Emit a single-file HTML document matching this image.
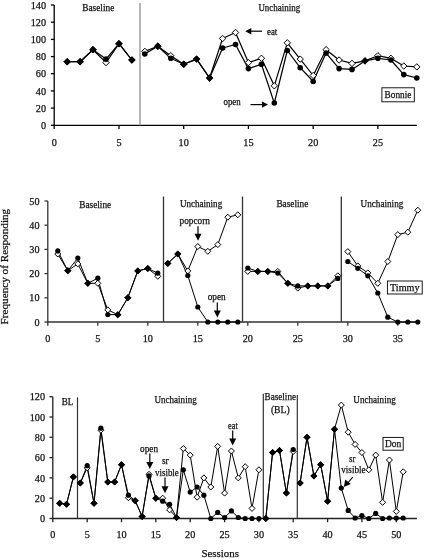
<!DOCTYPE html>
<html><head><meta charset="utf-8"><style>
html,body{margin:0;padding:0;background:#fff;}
svg{display:block;}
text{font-family:"Liberation Serif", serif;fill:#111;stroke:#111;stroke-width:0.25px;}
svg{will-change:transform;}
</style></head><body>
<svg width="430" height="558" viewBox="0 0 430 558">
<rect width="430" height="558" fill="#fff"/>
<line x1="54.2" y1="5.0" x2="54.2" y2="125.9" stroke="#000" stroke-width="1.3"/>
<line x1="53.6" y1="125.3" x2="416.8" y2="125.3" stroke="#000" stroke-width="1.3"/>
<line x1="50.9" y1="125.3" x2="54.2" y2="125.3" stroke="#000" stroke-width="1.3"/>
<text x="46.0" y="128.9" font-size="10.5" text-anchor="end" textLength="5.1" lengthAdjust="spacingAndGlyphs">0</text>
<line x1="50.9" y1="108.1" x2="54.2" y2="108.1" stroke="#000" stroke-width="1.3"/>
<text x="46.0" y="111.7" font-size="10.5" text-anchor="end" textLength="10.2" lengthAdjust="spacingAndGlyphs">20</text>
<line x1="50.9" y1="90.9" x2="54.2" y2="90.9" stroke="#000" stroke-width="1.3"/>
<text x="46.0" y="94.5" font-size="10.5" text-anchor="end" textLength="10.2" lengthAdjust="spacingAndGlyphs">40</text>
<line x1="50.9" y1="73.7" x2="54.2" y2="73.7" stroke="#000" stroke-width="1.3"/>
<text x="46.0" y="77.3" font-size="10.5" text-anchor="end" textLength="10.2" lengthAdjust="spacingAndGlyphs">60</text>
<line x1="50.9" y1="56.6" x2="54.2" y2="56.6" stroke="#000" stroke-width="1.3"/>
<text x="46.0" y="60.2" font-size="10.5" text-anchor="end" textLength="10.2" lengthAdjust="spacingAndGlyphs">80</text>
<line x1="50.9" y1="39.4" x2="54.2" y2="39.4" stroke="#000" stroke-width="1.3"/>
<text x="46.0" y="43.0" font-size="10.5" text-anchor="end" textLength="15.3" lengthAdjust="spacingAndGlyphs">100</text>
<line x1="50.9" y1="22.2" x2="54.2" y2="22.2" stroke="#000" stroke-width="1.3"/>
<text x="46.0" y="25.8" font-size="10.5" text-anchor="end" textLength="15.3" lengthAdjust="spacingAndGlyphs">120</text>
<line x1="50.9" y1="5.0" x2="54.2" y2="5.0" stroke="#000" stroke-width="1.3"/>
<text x="46.0" y="8.6" font-size="10.5" text-anchor="end" textLength="15.3" lengthAdjust="spacingAndGlyphs">140</text>
<line x1="54.2" y1="125.3" x2="54.2" y2="129.0" stroke="#000" stroke-width="1.3"/>
<text x="54.2" y="145.6" font-size="10.5" text-anchor="middle" textLength="5.1" lengthAdjust="spacingAndGlyphs">0</text>
<line x1="119.0" y1="125.3" x2="119.0" y2="129.0" stroke="#000" stroke-width="1.3"/>
<text x="119.0" y="145.6" font-size="10.5" text-anchor="middle" textLength="5.1" lengthAdjust="spacingAndGlyphs">5</text>
<line x1="183.7" y1="125.3" x2="183.7" y2="129.0" stroke="#000" stroke-width="1.3"/>
<text x="183.7" y="145.6" font-size="10.5" text-anchor="middle" textLength="10.2" lengthAdjust="spacingAndGlyphs">10</text>
<line x1="248.4" y1="125.3" x2="248.4" y2="129.0" stroke="#000" stroke-width="1.3"/>
<text x="248.4" y="145.6" font-size="10.5" text-anchor="middle" textLength="10.2" lengthAdjust="spacingAndGlyphs">15</text>
<line x1="313.2" y1="125.3" x2="313.2" y2="129.0" stroke="#000" stroke-width="1.3"/>
<text x="313.2" y="145.6" font-size="10.5" text-anchor="middle" textLength="10.2" lengthAdjust="spacingAndGlyphs">20</text>
<line x1="377.9" y1="125.3" x2="377.9" y2="129.0" stroke="#000" stroke-width="1.3"/>
<text x="377.9" y="145.6" font-size="10.5" text-anchor="middle" textLength="10.2" lengthAdjust="spacingAndGlyphs">25</text>
<line x1="140.0" y1="3.0" x2="140.0" y2="125.3" stroke="#999" stroke-width="1.4"/>
<polyline points="67.2,61.7 80.1,61.7 93.0,49.7 106.0,62.6 119.0,43.7 131.9,60.0" fill="none" stroke="#000" stroke-width="1.2" stroke-linejoin="round"/>
<polyline points="67.2,61.7 80.1,61.7 93.0,49.7 106.0,59.1 119.0,43.7 131.9,60.0" fill="none" stroke="#000" stroke-width="1.2" stroke-linejoin="round"/>
<polyline points="144.8,51.4 157.8,46.2 170.8,55.7 183.7,64.3 196.6,59.1 209.6,78.0 222.6,38.5 235.5,32.5 248.4,62.6 261.4,58.3 274.3,85.8 287.3,42.8 300.2,59.1 313.2,75.5 326.1,49.7 339.1,60.0 352.0,63.4 365.0,60.9 377.9,55.7 390.9,58.3 403.8,66.0 416.8,66.9" fill="none" stroke="#000" stroke-width="1.2" stroke-linejoin="round"/>
<polyline points="144.8,54.0 157.8,46.2 170.8,58.3 183.7,64.3 196.6,59.1 209.6,78.0 222.6,48.0 235.5,44.5 248.4,68.6 261.4,64.3 274.3,103.0 287.3,50.5 300.2,67.7 313.2,81.5 326.1,53.1 339.1,68.6 352.0,69.4 365.0,60.9 377.9,58.3 390.9,60.0 403.8,74.6 416.8,78.0" fill="none" stroke="#000" stroke-width="1.2" stroke-linejoin="round"/>
<path d="M67.2 58.5L70.4 61.7L67.2 64.9L64.0 61.7Z" fill="#fff" stroke="#000" stroke-width="1"/>
<path d="M80.1 58.5L83.3 61.7L80.1 64.9L76.9 61.7Z" fill="#fff" stroke="#000" stroke-width="1"/>
<path d="M93.0 46.5L96.2 49.7L93.0 52.9L89.8 49.7Z" fill="#fff" stroke="#000" stroke-width="1"/>
<path d="M106.0 59.4L109.2 62.6L106.0 65.8L102.8 62.6Z" fill="#fff" stroke="#000" stroke-width="1"/>
<path d="M119.0 40.5L122.2 43.7L119.0 46.9L115.8 43.7Z" fill="#fff" stroke="#000" stroke-width="1"/>
<path d="M131.9 56.8L135.1 60.0L131.9 63.2L128.7 60.0Z" fill="#fff" stroke="#000" stroke-width="1"/>
<path d="M144.8 48.2L148.0 51.4L144.8 54.6L141.7 51.4Z" fill="#fff" stroke="#000" stroke-width="1"/>
<path d="M157.8 43.0L161.0 46.2L157.8 49.4L154.6 46.2Z" fill="#fff" stroke="#000" stroke-width="1"/>
<path d="M170.8 52.5L173.9 55.7L170.8 58.9L167.6 55.7Z" fill="#fff" stroke="#000" stroke-width="1"/>
<path d="M183.7 61.1L186.9 64.3L183.7 67.5L180.5 64.3Z" fill="#fff" stroke="#000" stroke-width="1"/>
<path d="M196.6 55.9L199.8 59.1L196.6 62.3L193.4 59.1Z" fill="#fff" stroke="#000" stroke-width="1"/>
<path d="M209.6 74.8L212.8 78.0L209.6 81.2L206.4 78.0Z" fill="#fff" stroke="#000" stroke-width="1"/>
<path d="M222.6 35.3L225.8 38.5L222.6 41.7L219.4 38.5Z" fill="#fff" stroke="#000" stroke-width="1"/>
<path d="M235.5 29.3L238.7 32.5L235.5 35.7L232.3 32.5Z" fill="#fff" stroke="#000" stroke-width="1"/>
<path d="M248.4 59.4L251.6 62.6L248.4 65.8L245.2 62.6Z" fill="#fff" stroke="#000" stroke-width="1"/>
<path d="M261.4 55.1L264.6 58.3L261.4 61.5L258.2 58.3Z" fill="#fff" stroke="#000" stroke-width="1"/>
<path d="M274.3 82.6L277.5 85.8L274.3 89.0L271.1 85.8Z" fill="#fff" stroke="#000" stroke-width="1"/>
<path d="M287.3 39.6L290.5 42.8L287.3 46.0L284.1 42.8Z" fill="#fff" stroke="#000" stroke-width="1"/>
<path d="M300.2 55.9L303.4 59.1L300.2 62.3L297.1 59.1Z" fill="#fff" stroke="#000" stroke-width="1"/>
<path d="M313.2 72.3L316.4 75.5L313.2 78.7L310.0 75.5Z" fill="#fff" stroke="#000" stroke-width="1"/>
<path d="M326.1 46.5L329.3 49.7L326.1 52.9L322.9 49.7Z" fill="#fff" stroke="#000" stroke-width="1"/>
<path d="M339.1 56.8L342.3 60.0L339.1 63.2L335.9 60.0Z" fill="#fff" stroke="#000" stroke-width="1"/>
<path d="M352.0 60.2L355.2 63.4L352.0 66.6L348.8 63.4Z" fill="#fff" stroke="#000" stroke-width="1"/>
<path d="M365.0 57.7L368.2 60.9L365.0 64.1L361.8 60.9Z" fill="#fff" stroke="#000" stroke-width="1"/>
<path d="M377.9 52.5L381.1 55.7L377.9 58.9L374.8 55.7Z" fill="#fff" stroke="#000" stroke-width="1"/>
<path d="M390.9 55.1L394.1 58.3L390.9 61.5L387.7 58.3Z" fill="#fff" stroke="#000" stroke-width="1"/>
<path d="M403.8 62.8L407.0 66.0L403.8 69.2L400.6 66.0Z" fill="#fff" stroke="#000" stroke-width="1"/>
<path d="M416.8 63.7L420.0 66.9L416.8 70.1L413.6 66.9Z" fill="#fff" stroke="#000" stroke-width="1"/>
<path d="M67.2 58.0L70.9 61.7L67.2 65.4L63.5 61.7Z" fill="#000"/>
<path d="M80.1 58.0L83.8 61.7L80.1 65.4L76.4 61.7Z" fill="#000"/>
<path d="M93.0 46.0L96.8 49.7L93.0 53.4L89.3 49.7Z" fill="#000"/>
<circle cx="106.0" cy="59.1" r="2.8" fill="#000"/>
<path d="M119.0 40.0L122.7 43.7L119.0 47.4L115.2 43.7Z" fill="#000"/>
<path d="M131.9 56.3L135.6 60.0L131.9 63.7L128.2 60.0Z" fill="#000"/>
<circle cx="144.8" cy="54.0" r="2.8" fill="#000"/>
<path d="M157.8 42.5L161.5 46.2L157.8 49.9L154.1 46.2Z" fill="#000"/>
<circle cx="170.8" cy="58.3" r="2.8" fill="#000"/>
<path d="M183.7 60.6L187.4 64.3L183.7 68.0L180.0 64.3Z" fill="#000"/>
<path d="M196.6 55.4L200.3 59.1L196.6 62.8L192.9 59.1Z" fill="#000"/>
<path d="M209.6 74.3L213.3 78.0L209.6 81.7L205.9 78.0Z" fill="#000"/>
<circle cx="222.6" cy="48.0" r="2.8" fill="#000"/>
<circle cx="235.5" cy="44.5" r="2.8" fill="#000"/>
<circle cx="248.4" cy="68.6" r="2.8" fill="#000"/>
<circle cx="261.4" cy="64.3" r="2.8" fill="#000"/>
<circle cx="274.3" cy="103.0" r="2.8" fill="#000"/>
<circle cx="287.3" cy="50.5" r="2.8" fill="#000"/>
<circle cx="300.2" cy="67.7" r="2.8" fill="#000"/>
<circle cx="313.2" cy="81.5" r="2.8" fill="#000"/>
<circle cx="326.1" cy="53.1" r="2.8" fill="#000"/>
<circle cx="339.1" cy="68.6" r="2.8" fill="#000"/>
<circle cx="352.0" cy="69.4" r="2.8" fill="#000"/>
<path d="M365.0 57.2L368.7 60.9L365.0 64.6L361.3 60.9Z" fill="#000"/>
<circle cx="377.9" cy="58.3" r="2.8" fill="#000"/>
<circle cx="390.9" cy="60.0" r="2.8" fill="#000"/>
<circle cx="403.8" cy="74.6" r="2.8" fill="#000"/>
<circle cx="416.8" cy="78.0" r="2.8" fill="#000"/>
<line x1="47.8" y1="201.0" x2="47.8" y2="322.6" stroke="#333" stroke-width="1.3"/>
<line x1="47.2" y1="322.0" x2="417.8" y2="322.0" stroke="#333" stroke-width="1.3"/>
<line x1="44.5" y1="322.0" x2="47.8" y2="322.0" stroke="#333" stroke-width="1.3"/>
<text x="39.5" y="325.6" font-size="10.5" text-anchor="end" textLength="5.1" lengthAdjust="spacingAndGlyphs">0</text>
<line x1="44.5" y1="297.8" x2="47.8" y2="297.8" stroke="#333" stroke-width="1.3"/>
<text x="39.5" y="301.4" font-size="10.5" text-anchor="end" textLength="10.2" lengthAdjust="spacingAndGlyphs">10</text>
<line x1="44.5" y1="273.6" x2="47.8" y2="273.6" stroke="#333" stroke-width="1.3"/>
<text x="39.5" y="277.2" font-size="10.5" text-anchor="end" textLength="10.2" lengthAdjust="spacingAndGlyphs">20</text>
<line x1="44.5" y1="249.4" x2="47.8" y2="249.4" stroke="#333" stroke-width="1.3"/>
<text x="39.5" y="253.0" font-size="10.5" text-anchor="end" textLength="10.2" lengthAdjust="spacingAndGlyphs">30</text>
<line x1="44.5" y1="225.2" x2="47.8" y2="225.2" stroke="#333" stroke-width="1.3"/>
<text x="39.5" y="228.8" font-size="10.5" text-anchor="end" textLength="10.2" lengthAdjust="spacingAndGlyphs">40</text>
<line x1="44.5" y1="201.0" x2="47.8" y2="201.0" stroke="#333" stroke-width="1.3"/>
<text x="39.5" y="204.6" font-size="10.5" text-anchor="end" textLength="10.2" lengthAdjust="spacingAndGlyphs">50</text>
<line x1="47.8" y1="322.0" x2="47.8" y2="325.7" stroke="#333" stroke-width="1.3"/>
<text x="47.8" y="341.8" font-size="10.5" text-anchor="middle" textLength="5.1" lengthAdjust="spacingAndGlyphs">0</text>
<line x1="97.8" y1="322.0" x2="97.8" y2="325.7" stroke="#333" stroke-width="1.3"/>
<text x="97.8" y="341.8" font-size="10.5" text-anchor="middle" textLength="5.1" lengthAdjust="spacingAndGlyphs">5</text>
<line x1="147.8" y1="322.0" x2="147.8" y2="325.7" stroke="#333" stroke-width="1.3"/>
<text x="147.8" y="341.8" font-size="10.5" text-anchor="middle" textLength="10.2" lengthAdjust="spacingAndGlyphs">10</text>
<line x1="197.8" y1="322.0" x2="197.8" y2="325.7" stroke="#333" stroke-width="1.3"/>
<text x="197.8" y="341.8" font-size="10.5" text-anchor="middle" textLength="10.2" lengthAdjust="spacingAndGlyphs">15</text>
<line x1="247.8" y1="322.0" x2="247.8" y2="325.7" stroke="#333" stroke-width="1.3"/>
<text x="247.8" y="341.8" font-size="10.5" text-anchor="middle" textLength="10.2" lengthAdjust="spacingAndGlyphs">20</text>
<line x1="297.8" y1="322.0" x2="297.8" y2="325.7" stroke="#333" stroke-width="1.3"/>
<text x="297.8" y="341.8" font-size="10.5" text-anchor="middle" textLength="10.2" lengthAdjust="spacingAndGlyphs">25</text>
<line x1="347.8" y1="322.0" x2="347.8" y2="325.7" stroke="#333" stroke-width="1.3"/>
<text x="347.8" y="341.8" font-size="10.5" text-anchor="middle" textLength="10.2" lengthAdjust="spacingAndGlyphs">30</text>
<line x1="397.8" y1="322.0" x2="397.8" y2="325.7" stroke="#333" stroke-width="1.3"/>
<text x="397.8" y="341.8" font-size="10.5" text-anchor="middle" textLength="10.2" lengthAdjust="spacingAndGlyphs">35</text>
<line x1="163.5" y1="196.5" x2="163.5" y2="322.0" stroke="#333" stroke-width="1.3"/>
<line x1="242.5" y1="196.5" x2="242.5" y2="322.0" stroke="#333" stroke-width="1.3"/>
<line x1="341.3" y1="196.5" x2="341.3" y2="322.0" stroke="#333" stroke-width="1.3"/>
<polyline points="57.8,254.0 67.8,270.7 77.8,263.9 87.8,283.3 97.8,283.3 107.8,309.9 117.8,314.7 127.8,297.8 137.8,270.9 147.8,268.5 157.8,276.3" fill="none" stroke="#000" stroke-width="1.0" stroke-linejoin="round"/>
<polyline points="57.8,250.9 67.8,270.7 77.8,258.1 87.8,283.3 97.8,278.2 107.8,314.5 117.8,314.7 127.8,297.8 137.8,270.9 147.8,268.5 157.8,273.1" fill="none" stroke="#000" stroke-width="1.0" stroke-linejoin="round"/>
<polyline points="167.8,263.4 177.8,254.0 187.8,270.9 197.8,246.5 207.8,251.3 217.8,244.6 227.8,217.2 237.8,214.8" fill="none" stroke="#000" stroke-width="1.0" stroke-linejoin="round"/>
<polyline points="167.8,263.4 177.8,254.0 187.8,275.5 197.8,307.0 207.8,322.0 217.8,322.0 227.8,322.0 237.8,322.0" fill="none" stroke="#000" stroke-width="1.0" stroke-linejoin="round"/>
<polyline points="247.8,271.4 257.8,271.4 267.8,271.4 277.8,271.4 287.8,283.3 297.8,288.1 307.8,285.9 317.8,285.9 327.8,285.9 337.8,275.8" fill="none" stroke="#000" stroke-width="1.0" stroke-linejoin="round"/>
<polyline points="247.8,268.0 257.8,271.4 267.8,271.4 277.8,273.1 287.8,283.3 297.8,285.9 307.8,285.9 317.8,285.9 327.8,285.9 337.8,278.4" fill="none" stroke="#000" stroke-width="1.0" stroke-linejoin="round"/>
<polyline points="347.8,251.6 357.8,265.9 367.8,272.9 377.8,283.3 387.8,261.5 397.8,234.6 407.8,232.2 417.8,210.2" fill="none" stroke="#000" stroke-width="1.0" stroke-linejoin="round"/>
<polyline points="347.8,261.5 357.8,268.3 367.8,275.8 377.8,293.0 387.8,317.2 397.8,322.0 407.8,322.0 417.8,322.0" fill="none" stroke="#000" stroke-width="1.0" stroke-linejoin="round"/>
<path d="M57.8 251.0L60.8 254.0L57.8 257.0L54.8 254.0Z" fill="#fff" stroke="#000" stroke-width="1"/>
<path d="M67.8 267.7L70.8 270.7L67.8 273.7L64.8 270.7Z" fill="#fff" stroke="#000" stroke-width="1"/>
<path d="M77.8 260.9L80.8 263.9L77.8 266.9L74.8 263.9Z" fill="#fff" stroke="#000" stroke-width="1"/>
<path d="M87.8 280.3L90.8 283.3L87.8 286.3L84.8 283.3Z" fill="#fff" stroke="#000" stroke-width="1"/>
<path d="M97.8 280.3L100.8 283.3L97.8 286.3L94.8 283.3Z" fill="#fff" stroke="#000" stroke-width="1"/>
<path d="M107.8 306.9L110.8 309.9L107.8 312.9L104.8 309.9Z" fill="#fff" stroke="#000" stroke-width="1"/>
<path d="M117.8 311.7L120.8 314.7L117.8 317.7L114.8 314.7Z" fill="#fff" stroke="#000" stroke-width="1"/>
<path d="M127.8 294.8L130.8 297.8L127.8 300.8L124.8 297.8Z" fill="#fff" stroke="#000" stroke-width="1"/>
<path d="M137.8 267.9L140.8 270.9L137.8 273.9L134.8 270.9Z" fill="#fff" stroke="#000" stroke-width="1"/>
<path d="M147.8 265.5L150.8 268.5L147.8 271.5L144.8 268.5Z" fill="#fff" stroke="#000" stroke-width="1"/>
<path d="M157.8 273.3L160.8 276.3L157.8 279.3L154.8 276.3Z" fill="#fff" stroke="#000" stroke-width="1"/>
<path d="M167.8 260.4L170.8 263.4L167.8 266.4L164.8 263.4Z" fill="#fff" stroke="#000" stroke-width="1"/>
<path d="M177.8 251.0L180.8 254.0L177.8 257.0L174.8 254.0Z" fill="#fff" stroke="#000" stroke-width="1"/>
<path d="M187.8 267.9L190.8 270.9L187.8 273.9L184.8 270.9Z" fill="#fff" stroke="#000" stroke-width="1"/>
<path d="M197.8 243.5L200.8 246.5L197.8 249.5L194.8 246.5Z" fill="#fff" stroke="#000" stroke-width="1"/>
<path d="M207.8 248.3L210.8 251.3L207.8 254.3L204.8 251.3Z" fill="#fff" stroke="#000" stroke-width="1"/>
<path d="M217.8 241.6L220.8 244.6L217.8 247.6L214.8 244.6Z" fill="#fff" stroke="#000" stroke-width="1"/>
<path d="M227.8 214.2L230.8 217.2L227.8 220.2L224.8 217.2Z" fill="#fff" stroke="#000" stroke-width="1"/>
<path d="M237.8 211.8L240.8 214.8L237.8 217.8L234.8 214.8Z" fill="#fff" stroke="#000" stroke-width="1"/>
<path d="M247.8 268.4L250.8 271.4L247.8 274.4L244.8 271.4Z" fill="#fff" stroke="#000" stroke-width="1"/>
<path d="M257.8 268.4L260.8 271.4L257.8 274.4L254.8 271.4Z" fill="#fff" stroke="#000" stroke-width="1"/>
<path d="M267.8 268.4L270.8 271.4L267.8 274.4L264.8 271.4Z" fill="#fff" stroke="#000" stroke-width="1"/>
<path d="M277.8 268.4L280.8 271.4L277.8 274.4L274.8 271.4Z" fill="#fff" stroke="#000" stroke-width="1"/>
<path d="M287.8 280.3L290.8 283.3L287.8 286.3L284.8 283.3Z" fill="#fff" stroke="#000" stroke-width="1"/>
<path d="M297.8 285.1L300.8 288.1L297.8 291.1L294.8 288.1Z" fill="#fff" stroke="#000" stroke-width="1"/>
<path d="M307.8 282.9L310.8 285.9L307.8 288.9L304.8 285.9Z" fill="#fff" stroke="#000" stroke-width="1"/>
<path d="M317.8 282.9L320.8 285.9L317.8 288.9L314.8 285.9Z" fill="#fff" stroke="#000" stroke-width="1"/>
<path d="M327.8 282.9L330.8 285.9L327.8 288.9L324.8 285.9Z" fill="#fff" stroke="#000" stroke-width="1"/>
<path d="M337.8 272.8L340.8 275.8L337.8 278.8L334.8 275.8Z" fill="#fff" stroke="#000" stroke-width="1"/>
<path d="M347.8 248.6L350.8 251.6L347.8 254.6L344.8 251.6Z" fill="#fff" stroke="#000" stroke-width="1"/>
<path d="M357.8 262.9L360.8 265.9L357.8 268.9L354.8 265.9Z" fill="#fff" stroke="#000" stroke-width="1"/>
<path d="M367.8 269.9L370.8 272.9L367.8 275.9L364.8 272.9Z" fill="#fff" stroke="#000" stroke-width="1"/>
<path d="M377.8 280.3L380.8 283.3L377.8 286.3L374.8 283.3Z" fill="#fff" stroke="#000" stroke-width="1"/>
<path d="M387.8 258.5L390.8 261.5L387.8 264.5L384.8 261.5Z" fill="#fff" stroke="#000" stroke-width="1"/>
<path d="M397.8 231.6L400.8 234.6L397.8 237.6L394.8 234.6Z" fill="#fff" stroke="#000" stroke-width="1"/>
<path d="M407.8 229.2L410.8 232.2L407.8 235.2L404.8 232.2Z" fill="#fff" stroke="#000" stroke-width="1"/>
<path d="M417.8 207.2L420.8 210.2L417.8 213.2L414.8 210.2Z" fill="#fff" stroke="#000" stroke-width="1"/>
<circle cx="57.8" cy="250.9" r="2.6" fill="#000"/>
<path d="M67.8 267.2L71.3 270.7L67.8 274.2L64.3 270.7Z" fill="#000"/>
<circle cx="77.8" cy="258.1" r="2.6" fill="#000"/>
<path d="M87.8 279.8L91.3 283.3L87.8 286.8L84.3 283.3Z" fill="#000"/>
<circle cx="97.8" cy="278.2" r="2.6" fill="#000"/>
<circle cx="107.8" cy="314.5" r="2.6" fill="#000"/>
<path d="M117.8 311.2L121.3 314.7L117.8 318.2L114.3 314.7Z" fill="#000"/>
<path d="M127.8 294.3L131.3 297.8L127.8 301.3L124.3 297.8Z" fill="#000"/>
<path d="M137.8 267.4L141.3 270.9L137.8 274.4L134.3 270.9Z" fill="#000"/>
<path d="M147.8 265.0L151.3 268.5L147.8 272.0L144.3 268.5Z" fill="#000"/>
<circle cx="157.8" cy="273.1" r="2.6" fill="#000"/>
<path d="M167.8 259.9L171.3 263.4L167.8 266.9L164.3 263.4Z" fill="#000"/>
<path d="M177.8 250.5L181.3 254.0L177.8 257.5L174.3 254.0Z" fill="#000"/>
<circle cx="187.8" cy="275.5" r="2.6" fill="#000"/>
<circle cx="197.8" cy="307.0" r="2.6" fill="#000"/>
<circle cx="207.8" cy="322.0" r="2.6" fill="#000"/>
<circle cx="217.8" cy="322.0" r="2.6" fill="#000"/>
<circle cx="227.8" cy="322.0" r="2.6" fill="#000"/>
<circle cx="237.8" cy="322.0" r="2.6" fill="#000"/>
<circle cx="247.8" cy="268.0" r="2.6" fill="#000"/>
<path d="M257.8 267.9L261.3 271.4L257.8 274.9L254.3 271.4Z" fill="#000"/>
<path d="M267.8 267.9L271.3 271.4L267.8 274.9L264.3 271.4Z" fill="#000"/>
<circle cx="277.8" cy="273.1" r="2.6" fill="#000"/>
<path d="M287.8 279.8L291.3 283.3L287.8 286.8L284.3 283.3Z" fill="#000"/>
<circle cx="297.8" cy="285.9" r="2.6" fill="#000"/>
<path d="M307.8 282.4L311.3 285.9L307.8 289.4L304.3 285.9Z" fill="#000"/>
<path d="M317.8 282.4L321.3 285.9L317.8 289.4L314.3 285.9Z" fill="#000"/>
<path d="M327.8 282.4L331.3 285.9L327.8 289.4L324.3 285.9Z" fill="#000"/>
<circle cx="337.8" cy="278.4" r="2.6" fill="#000"/>
<circle cx="347.8" cy="261.5" r="2.6" fill="#000"/>
<circle cx="357.8" cy="268.3" r="2.6" fill="#000"/>
<circle cx="367.8" cy="275.8" r="2.6" fill="#000"/>
<circle cx="377.8" cy="293.0" r="2.6" fill="#000"/>
<circle cx="387.8" cy="317.2" r="2.6" fill="#000"/>
<circle cx="397.8" cy="322.0" r="2.6" fill="#000"/>
<circle cx="407.8" cy="322.0" r="2.6" fill="#000"/>
<circle cx="417.8" cy="322.0" r="2.6" fill="#000"/>
<line x1="52.8" y1="396.7" x2="52.8" y2="519.1" stroke="#222" stroke-width="1.3"/>
<line x1="52.2" y1="518.5" x2="416.9" y2="518.5" stroke="#222" stroke-width="1.3"/>
<line x1="49.5" y1="518.5" x2="52.8" y2="518.5" stroke="#222" stroke-width="1.3"/>
<text x="45.0" y="522.1" font-size="10.5" text-anchor="end" textLength="5.1" lengthAdjust="spacingAndGlyphs">0</text>
<line x1="49.5" y1="498.2" x2="52.8" y2="498.2" stroke="#222" stroke-width="1.3"/>
<text x="45.0" y="501.8" font-size="10.5" text-anchor="end" textLength="10.2" lengthAdjust="spacingAndGlyphs">20</text>
<line x1="49.5" y1="477.9" x2="52.8" y2="477.9" stroke="#222" stroke-width="1.3"/>
<text x="45.0" y="481.5" font-size="10.5" text-anchor="end" textLength="10.2" lengthAdjust="spacingAndGlyphs">40</text>
<line x1="49.5" y1="457.6" x2="52.8" y2="457.6" stroke="#222" stroke-width="1.3"/>
<text x="45.0" y="461.2" font-size="10.5" text-anchor="end" textLength="10.2" lengthAdjust="spacingAndGlyphs">60</text>
<line x1="49.5" y1="437.3" x2="52.8" y2="437.3" stroke="#222" stroke-width="1.3"/>
<text x="45.0" y="440.9" font-size="10.5" text-anchor="end" textLength="10.2" lengthAdjust="spacingAndGlyphs">80</text>
<line x1="49.5" y1="417.0" x2="52.8" y2="417.0" stroke="#222" stroke-width="1.3"/>
<text x="45.0" y="420.6" font-size="10.5" text-anchor="end" textLength="15.3" lengthAdjust="spacingAndGlyphs">100</text>
<line x1="49.5" y1="396.7" x2="52.8" y2="396.7" stroke="#222" stroke-width="1.3"/>
<text x="45.0" y="400.3" font-size="10.5" text-anchor="end" textLength="15.3" lengthAdjust="spacingAndGlyphs">120</text>
<line x1="52.8" y1="518.5" x2="52.8" y2="522.2" stroke="#222" stroke-width="1.3"/>
<text x="52.8" y="538.4" font-size="10.5" text-anchor="middle" textLength="5.1" lengthAdjust="spacingAndGlyphs">0</text>
<line x1="87.2" y1="518.5" x2="87.2" y2="522.2" stroke="#222" stroke-width="1.3"/>
<text x="87.2" y="538.4" font-size="10.5" text-anchor="middle" textLength="5.1" lengthAdjust="spacingAndGlyphs">5</text>
<line x1="121.5" y1="518.5" x2="121.5" y2="522.2" stroke="#222" stroke-width="1.3"/>
<text x="121.5" y="538.4" font-size="10.5" text-anchor="middle" textLength="10.2" lengthAdjust="spacingAndGlyphs">10</text>
<line x1="155.8" y1="518.5" x2="155.8" y2="522.2" stroke="#222" stroke-width="1.3"/>
<text x="155.8" y="538.4" font-size="10.5" text-anchor="middle" textLength="10.2" lengthAdjust="spacingAndGlyphs">15</text>
<line x1="190.2" y1="518.5" x2="190.2" y2="522.2" stroke="#222" stroke-width="1.3"/>
<text x="190.2" y="538.4" font-size="10.5" text-anchor="middle" textLength="10.2" lengthAdjust="spacingAndGlyphs">20</text>
<line x1="224.6" y1="518.5" x2="224.6" y2="522.2" stroke="#222" stroke-width="1.3"/>
<text x="224.6" y="538.4" font-size="10.5" text-anchor="middle" textLength="10.2" lengthAdjust="spacingAndGlyphs">25</text>
<line x1="258.9" y1="518.5" x2="258.9" y2="522.2" stroke="#222" stroke-width="1.3"/>
<text x="258.9" y="538.4" font-size="10.5" text-anchor="middle" textLength="10.2" lengthAdjust="spacingAndGlyphs">30</text>
<line x1="293.2" y1="518.5" x2="293.2" y2="522.2" stroke="#222" stroke-width="1.3"/>
<text x="293.2" y="538.4" font-size="10.5" text-anchor="middle" textLength="10.2" lengthAdjust="spacingAndGlyphs">35</text>
<line x1="327.6" y1="518.5" x2="327.6" y2="522.2" stroke="#222" stroke-width="1.3"/>
<text x="327.6" y="538.4" font-size="10.5" text-anchor="middle" textLength="10.2" lengthAdjust="spacingAndGlyphs">40</text>
<line x1="361.9" y1="518.5" x2="361.9" y2="522.2" stroke="#222" stroke-width="1.3"/>
<text x="361.9" y="538.4" font-size="10.5" text-anchor="middle" textLength="10.2" lengthAdjust="spacingAndGlyphs">45</text>
<line x1="396.3" y1="518.5" x2="396.3" y2="522.2" stroke="#222" stroke-width="1.3"/>
<text x="396.3" y="538.4" font-size="10.5" text-anchor="middle" textLength="10.2" lengthAdjust="spacingAndGlyphs">50</text>
<line x1="77.5" y1="397.3" x2="77.5" y2="518.5" stroke="#333" stroke-width="1.2"/>
<line x1="263.3" y1="393.8" x2="263.3" y2="518.5" stroke="#333" stroke-width="1.2"/>
<line x1="297.3" y1="395.0" x2="297.3" y2="518.5" stroke="#333" stroke-width="1.2"/>
<polyline points="59.7,503.3 66.5,504.3 73.4,476.9" fill="none" stroke="#000" stroke-width="1.0" stroke-linejoin="round"/>
<polyline points="59.7,503.3 66.5,504.3 73.4,476.9" fill="none" stroke="#000" stroke-width="1.0" stroke-linejoin="round"/>
<polyline points="80.3,483.0 87.2,467.8 94.0,503.3 100.9,430.2 107.8,482.0 114.6,482.0 121.5,464.7 128.4,497.7 135.2,500.7 142.1,516.5 149.0,474.3 155.8,498.2 162.7,498.2 169.6,509.9 176.5,517.5 183.3,448.5 190.2,455.1 197.1,497.2 203.9,477.9 210.8,487.0 217.7,446.4 224.6,493.1 231.4,451.0 238.3,477.9 245.2,466.7 252.0,508.4 258.9,469.8" fill="none" stroke="#000" stroke-width="1.0" stroke-linejoin="round"/>
<polyline points="80.3,483.0 87.2,465.7 94.0,503.3 100.9,428.2 107.8,482.0 114.6,482.0 121.5,464.7 128.4,495.2 135.2,500.7 142.1,516.5 149.0,475.9 155.8,498.2 162.7,501.2 169.6,504.3 176.5,517.5 183.3,469.8 190.2,492.1 197.1,487.0 203.9,495.2 210.8,518.5 217.7,512.4 224.6,517.5 231.4,510.9 238.3,517.5 245.2,518.5 252.0,518.5 258.9,518.5" fill="none" stroke="#000" stroke-width="1.0" stroke-linejoin="round"/>
<polyline points="265.8,518.5 272.6,452.5 279.5,450.5 286.4,493.1 293.2,451.5" fill="none" stroke="#000" stroke-width="1.0" stroke-linejoin="round"/>
<polyline points="265.8,518.5 272.6,452.5 279.5,450.5 286.4,493.1 293.2,449.5" fill="none" stroke="#000" stroke-width="1.0" stroke-linejoin="round"/>
<polyline points="300.1,483.0 307.0,437.3 313.9,475.9 320.7,464.7 327.6,501.2 334.5,429.2 341.3,405.1 348.2,432.2 355.1,444.4 361.9,452.5 368.8,469.8 375.7,455.1 382.6,502.3 389.4,460.0 396.3,511.4 403.2,471.8" fill="none" stroke="#000" stroke-width="1.0" stroke-linejoin="round"/>
<polyline points="300.1,483.0 307.0,437.3 313.9,475.9 320.7,464.7 327.6,501.2 334.5,429.2 341.3,488.1 348.2,510.4 355.1,518.0 361.9,515.5 368.8,518.5 375.7,513.4 382.6,518.5 389.4,518.0 396.3,518.0 403.2,518.0" fill="none" stroke="#000" stroke-width="1.0" stroke-linejoin="round"/>
<path d="M59.7 500.3L62.7 503.3L59.7 506.3L56.7 503.3Z" fill="#fff" stroke="#000" stroke-width="1"/>
<path d="M66.5 501.3L69.5 504.3L66.5 507.3L63.5 504.3Z" fill="#fff" stroke="#000" stroke-width="1"/>
<path d="M73.4 473.9L76.4 476.9L73.4 479.9L70.4 476.9Z" fill="#fff" stroke="#000" stroke-width="1"/>
<path d="M80.3 480.0L83.3 483.0L80.3 486.0L77.3 483.0Z" fill="#fff" stroke="#000" stroke-width="1"/>
<path d="M87.2 464.8L90.2 467.8L87.2 470.8L84.2 467.8Z" fill="#fff" stroke="#000" stroke-width="1"/>
<path d="M94.0 500.3L97.0 503.3L94.0 506.3L91.0 503.3Z" fill="#fff" stroke="#000" stroke-width="1"/>
<path d="M100.9 427.2L103.9 430.2L100.9 433.2L97.9 430.2Z" fill="#fff" stroke="#000" stroke-width="1"/>
<path d="M107.8 479.0L110.8 482.0L107.8 485.0L104.8 482.0Z" fill="#fff" stroke="#000" stroke-width="1"/>
<path d="M114.6 479.0L117.6 482.0L114.6 485.0L111.6 482.0Z" fill="#fff" stroke="#000" stroke-width="1"/>
<path d="M121.5 461.7L124.5 464.7L121.5 467.7L118.5 464.7Z" fill="#fff" stroke="#000" stroke-width="1"/>
<path d="M128.4 494.7L131.4 497.7L128.4 500.7L125.4 497.7Z" fill="#fff" stroke="#000" stroke-width="1"/>
<path d="M135.2 497.7L138.2 500.7L135.2 503.7L132.2 500.7Z" fill="#fff" stroke="#000" stroke-width="1"/>
<path d="M142.1 513.5L145.1 516.5L142.1 519.5L139.1 516.5Z" fill="#fff" stroke="#000" stroke-width="1"/>
<path d="M149.0 471.3L152.0 474.3L149.0 477.3L146.0 474.3Z" fill="#fff" stroke="#000" stroke-width="1"/>
<path d="M155.8 495.2L158.8 498.2L155.8 501.2L152.8 498.2Z" fill="#fff" stroke="#000" stroke-width="1"/>
<path d="M162.7 495.2L165.7 498.2L162.7 501.2L159.7 498.2Z" fill="#fff" stroke="#000" stroke-width="1"/>
<path d="M169.6 506.9L172.6 509.9L169.6 512.9L166.6 509.9Z" fill="#fff" stroke="#000" stroke-width="1"/>
<path d="M176.5 514.5L179.5 517.5L176.5 520.5L173.5 517.5Z" fill="#fff" stroke="#000" stroke-width="1"/>
<path d="M183.3 445.5L186.3 448.5L183.3 451.5L180.3 448.5Z" fill="#fff" stroke="#000" stroke-width="1"/>
<path d="M190.2 452.1L193.2 455.1L190.2 458.1L187.2 455.1Z" fill="#fff" stroke="#000" stroke-width="1"/>
<path d="M197.1 494.2L200.1 497.2L197.1 500.2L194.1 497.2Z" fill="#fff" stroke="#000" stroke-width="1"/>
<path d="M203.9 474.9L206.9 477.9L203.9 480.9L200.9 477.9Z" fill="#fff" stroke="#000" stroke-width="1"/>
<path d="M210.8 484.0L213.8 487.0L210.8 490.0L207.8 487.0Z" fill="#fff" stroke="#000" stroke-width="1"/>
<path d="M217.7 443.4L220.7 446.4L217.7 449.4L214.7 446.4Z" fill="#fff" stroke="#000" stroke-width="1"/>
<path d="M224.6 490.1L227.6 493.1L224.6 496.1L221.6 493.1Z" fill="#fff" stroke="#000" stroke-width="1"/>
<path d="M231.4 448.0L234.4 451.0L231.4 454.0L228.4 451.0Z" fill="#fff" stroke="#000" stroke-width="1"/>
<path d="M238.3 474.9L241.3 477.9L238.3 480.9L235.3 477.9Z" fill="#fff" stroke="#000" stroke-width="1"/>
<path d="M245.2 463.7L248.2 466.7L245.2 469.7L242.2 466.7Z" fill="#fff" stroke="#000" stroke-width="1"/>
<path d="M252.0 505.4L255.0 508.4L252.0 511.4L249.0 508.4Z" fill="#fff" stroke="#000" stroke-width="1"/>
<path d="M258.9 466.8L261.9 469.8L258.9 472.8L255.9 469.8Z" fill="#fff" stroke="#000" stroke-width="1"/>
<path d="M265.8 515.5L268.8 518.5L265.8 521.5L262.8 518.5Z" fill="#fff" stroke="#000" stroke-width="1"/>
<path d="M272.6 449.5L275.6 452.5L272.6 455.5L269.6 452.5Z" fill="#fff" stroke="#000" stroke-width="1"/>
<path d="M279.5 447.5L282.5 450.5L279.5 453.5L276.5 450.5Z" fill="#fff" stroke="#000" stroke-width="1"/>
<path d="M286.4 490.1L289.4 493.1L286.4 496.1L283.4 493.1Z" fill="#fff" stroke="#000" stroke-width="1"/>
<path d="M293.2 448.5L296.2 451.5L293.2 454.5L290.2 451.5Z" fill="#fff" stroke="#000" stroke-width="1"/>
<path d="M300.1 480.0L303.1 483.0L300.1 486.0L297.1 483.0Z" fill="#fff" stroke="#000" stroke-width="1"/>
<path d="M307.0 434.3L310.0 437.3L307.0 440.3L304.0 437.3Z" fill="#fff" stroke="#000" stroke-width="1"/>
<path d="M313.9 472.9L316.9 475.9L313.9 478.9L310.9 475.9Z" fill="#fff" stroke="#000" stroke-width="1"/>
<path d="M320.7 461.7L323.7 464.7L320.7 467.7L317.7 464.7Z" fill="#fff" stroke="#000" stroke-width="1"/>
<path d="M327.6 498.2L330.6 501.2L327.6 504.2L324.6 501.2Z" fill="#fff" stroke="#000" stroke-width="1"/>
<path d="M334.5 426.2L337.5 429.2L334.5 432.2L331.5 429.2Z" fill="#fff" stroke="#000" stroke-width="1"/>
<path d="M341.3 402.1L344.3 405.1L341.3 408.1L338.3 405.1Z" fill="#fff" stroke="#000" stroke-width="1"/>
<path d="M348.2 429.2L351.2 432.2L348.2 435.2L345.2 432.2Z" fill="#fff" stroke="#000" stroke-width="1"/>
<path d="M355.1 441.4L358.1 444.4L355.1 447.4L352.1 444.4Z" fill="#fff" stroke="#000" stroke-width="1"/>
<path d="M361.9 449.5L364.9 452.5L361.9 455.5L358.9 452.5Z" fill="#fff" stroke="#000" stroke-width="1"/>
<path d="M368.8 466.8L371.8 469.8L368.8 472.8L365.8 469.8Z" fill="#fff" stroke="#000" stroke-width="1"/>
<path d="M375.7 452.1L378.7 455.1L375.7 458.1L372.7 455.1Z" fill="#fff" stroke="#000" stroke-width="1"/>
<path d="M382.6 499.3L385.6 502.3L382.6 505.3L379.6 502.3Z" fill="#fff" stroke="#000" stroke-width="1"/>
<path d="M389.4 457.0L392.4 460.0L389.4 463.0L386.4 460.0Z" fill="#fff" stroke="#000" stroke-width="1"/>
<path d="M396.3 508.4L399.3 511.4L396.3 514.4L393.3 511.4Z" fill="#fff" stroke="#000" stroke-width="1"/>
<path d="M403.2 468.8L406.2 471.8L403.2 474.8L400.2 471.8Z" fill="#fff" stroke="#000" stroke-width="1"/>
<path d="M59.7 499.8L63.2 503.3L59.7 506.8L56.2 503.3Z" fill="#000"/>
<path d="M66.5 500.8L70.0 504.3L66.5 507.8L63.0 504.3Z" fill="#000"/>
<path d="M73.4 473.4L76.9 476.9L73.4 480.4L69.9 476.9Z" fill="#000"/>
<path d="M80.3 479.5L83.8 483.0L80.3 486.5L76.8 483.0Z" fill="#000"/>
<circle cx="87.2" cy="465.7" r="2.6" fill="#000"/>
<path d="M94.0 499.8L97.5 503.3L94.0 506.8L90.5 503.3Z" fill="#000"/>
<circle cx="100.9" cy="428.2" r="2.6" fill="#000"/>
<path d="M107.8 478.5L111.3 482.0L107.8 485.5L104.3 482.0Z" fill="#000"/>
<path d="M114.6 478.5L118.1 482.0L114.6 485.5L111.1 482.0Z" fill="#000"/>
<path d="M121.5 461.2L125.0 464.7L121.5 468.2L118.0 464.7Z" fill="#000"/>
<circle cx="128.4" cy="495.2" r="2.6" fill="#000"/>
<path d="M135.2 497.2L138.7 500.7L135.2 504.2L131.7 500.7Z" fill="#000"/>
<path d="M142.1 513.0L145.6 516.5L142.1 520.0L138.6 516.5Z" fill="#000"/>
<circle cx="149.0" cy="475.9" r="2.6" fill="#000"/>
<path d="M155.8 494.7L159.3 498.2L155.8 501.7L152.3 498.2Z" fill="#000"/>
<circle cx="162.7" cy="501.2" r="2.6" fill="#000"/>
<circle cx="169.6" cy="504.3" r="2.6" fill="#000"/>
<path d="M176.5 514.0L180.0 517.5L176.5 521.0L173.0 517.5Z" fill="#000"/>
<circle cx="183.3" cy="469.8" r="2.6" fill="#000"/>
<circle cx="190.2" cy="492.1" r="2.6" fill="#000"/>
<circle cx="197.1" cy="487.0" r="2.6" fill="#000"/>
<circle cx="203.9" cy="495.2" r="2.6" fill="#000"/>
<circle cx="210.8" cy="518.5" r="2.6" fill="#000"/>
<circle cx="217.7" cy="512.4" r="2.6" fill="#000"/>
<circle cx="224.6" cy="517.5" r="2.6" fill="#000"/>
<circle cx="231.4" cy="510.9" r="2.6" fill="#000"/>
<circle cx="238.3" cy="517.5" r="2.6" fill="#000"/>
<circle cx="245.2" cy="518.5" r="2.6" fill="#000"/>
<circle cx="252.0" cy="518.5" r="2.6" fill="#000"/>
<circle cx="258.9" cy="518.5" r="2.6" fill="#000"/>
<path d="M265.8 515.0L269.3 518.5L265.8 522.0L262.3 518.5Z" fill="#000"/>
<path d="M272.6 449.0L276.1 452.5L272.6 456.0L269.1 452.5Z" fill="#000"/>
<path d="M279.5 447.0L283.0 450.5L279.5 454.0L276.0 450.5Z" fill="#000"/>
<path d="M286.4 489.6L289.9 493.1L286.4 496.6L282.9 493.1Z" fill="#000"/>
<circle cx="293.2" cy="449.5" r="2.6" fill="#000"/>
<path d="M300.1 479.5L303.6 483.0L300.1 486.5L296.6 483.0Z" fill="#000"/>
<path d="M307.0 433.8L310.5 437.3L307.0 440.8L303.5 437.3Z" fill="#000"/>
<path d="M313.9 472.4L317.4 475.9L313.9 479.4L310.4 475.9Z" fill="#000"/>
<path d="M320.7 461.2L324.2 464.7L320.7 468.2L317.2 464.7Z" fill="#000"/>
<path d="M327.6 497.7L331.1 501.2L327.6 504.7L324.1 501.2Z" fill="#000"/>
<path d="M334.5 425.7L338.0 429.2L334.5 432.7L331.0 429.2Z" fill="#000"/>
<circle cx="341.3" cy="488.1" r="2.6" fill="#000"/>
<circle cx="348.2" cy="510.4" r="2.6" fill="#000"/>
<circle cx="355.1" cy="518.0" r="2.6" fill="#000"/>
<circle cx="361.9" cy="515.5" r="2.6" fill="#000"/>
<circle cx="368.8" cy="518.5" r="2.6" fill="#000"/>
<circle cx="375.7" cy="513.4" r="2.6" fill="#000"/>
<circle cx="382.6" cy="518.5" r="2.6" fill="#000"/>
<circle cx="389.4" cy="518.0" r="2.6" fill="#000"/>
<circle cx="396.3" cy="518.0" r="2.6" fill="#000"/>
<circle cx="403.2" cy="518.0" r="2.6" fill="#000"/>
<text x="82.3" y="11.2" font-size="10" textLength="32" lengthAdjust="spacingAndGlyphs">Baseline</text>
<text x="258.4" y="11.0" font-size="10" textLength="41.8" lengthAdjust="spacingAndGlyphs">Unchaining</text>
<line x1="250.8" y1="31.2" x2="262.0" y2="31.2" stroke="#000" stroke-width="1.2"/>
<path d="M245.3 31.2L251.3 28.0L251.3 34.4Z" fill="#000"/>
<text x="267.0" y="34.9" font-size="10" textLength="10.2" lengthAdjust="spacingAndGlyphs">eat</text>
<text x="223.5" y="104.5" font-size="10" textLength="17.2" lengthAdjust="spacingAndGlyphs">open</text>
<line x1="250.5" y1="104.6" x2="262.5" y2="104.6" stroke="#000" stroke-width="1.2"/>
<path d="M268.0 104.6L262.0 101.4L262.0 107.8Z" fill="#000"/>
<rect x="381.9" y="87.8" width="32.4" height="14" fill="#fff" stroke="#000" stroke-width="0.9"/>
<text x="384.6" y="97.9" font-size="10" textLength="26.8" lengthAdjust="spacingAndGlyphs">Bonnie</text>
<text x="79.2" y="207.8" font-size="10" textLength="32" lengthAdjust="spacingAndGlyphs">Baseline</text>
<text x="179.9" y="207.2" font-size="10" textLength="42.3" lengthAdjust="spacingAndGlyphs">Unchaining</text>
<text x="179.6" y="224.4" font-size="10" textLength="30.4" lengthAdjust="spacingAndGlyphs">popcorn</text>
<line x1="198.0" y1="226.3" x2="198.0" y2="234.3" stroke="#000" stroke-width="1.2"/>
<path d="M198.0 240.8L194.5 233.8L201.5 233.8Z" fill="#000"/>
<text x="207.7" y="299.6" font-size="10" textLength="18.1" lengthAdjust="spacingAndGlyphs">open</text>
<line x1="217.3" y1="302.5" x2="217.3" y2="311.1" stroke="#000" stroke-width="1.2"/>
<path d="M217.3 317.6L213.8 310.6L220.8 310.6Z" fill="#000"/>
<text x="276.4" y="206.8" font-size="10" textLength="32" lengthAdjust="spacingAndGlyphs">Baseline</text>
<text x="360.6" y="207.2" font-size="10" textLength="42.7" lengthAdjust="spacingAndGlyphs">Unchaining</text>
<rect x="387.4" y="281" width="34.8" height="13" fill="#fff" stroke="#000" stroke-width="0.9"/>
<text x="390.0" y="291.3" font-size="10" textLength="29.5" lengthAdjust="spacingAndGlyphs">Timmy</text>
<text transform="translate(8.2 266.6) rotate(-90)" font-size="11.2" text-anchor="middle" textLength="115.6" lengthAdjust="spacingAndGlyphs">Frequency of Responding</text>
<text x="61.8" y="404.5" font-size="10" textLength="11.6" lengthAdjust="spacingAndGlyphs">BL</text>
<text x="154.5" y="403.2" font-size="10" textLength="42.2" lengthAdjust="spacingAndGlyphs">Unchaining</text>
<text x="140.1" y="452.4" font-size="10" textLength="18" lengthAdjust="spacingAndGlyphs">open</text>
<line x1="149.8" y1="453.6" x2="149.8" y2="462.6" stroke="#000" stroke-width="1.2"/>
<path d="M149.8 469.1L146.3 462.1L153.3 462.1Z" fill="#000"/>
<text x="161.9" y="464.2" font-size="10" textLength="6.8" lengthAdjust="spacingAndGlyphs">sr</text>
<text x="155.0" y="475.7" font-size="10" textLength="23.8" lengthAdjust="spacingAndGlyphs">visible</text>
<line x1="165.0" y1="477.5" x2="165.0" y2="486.8" stroke="#000" stroke-width="1.2"/>
<path d="M165.0 493.3L161.5 486.3L168.5 486.3Z" fill="#000"/>
<text x="228.1" y="429.2" font-size="10" textLength="9.6" lengthAdjust="spacingAndGlyphs">eat</text>
<line x1="232.7" y1="430.6" x2="232.7" y2="439.1" stroke="#000" stroke-width="1.2"/>
<path d="M232.7 445.6L229.2 438.6L236.2 438.6Z" fill="#000"/>
<text x="264.6" y="400.4" font-size="10" textLength="31.4" lengthAdjust="spacingAndGlyphs">Baseline</text>
<text x="270.9" y="413.0" font-size="10" textLength="18.8" lengthAdjust="spacingAndGlyphs">(BL)</text>
<text x="353.3" y="402.9" font-size="10" textLength="42.5" lengthAdjust="spacingAndGlyphs">Unchaining</text>
<text x="349.0" y="461.7" font-size="10" textLength="6.4" lengthAdjust="spacingAndGlyphs">sr</text>
<text x="341.3" y="472.9" font-size="10" textLength="24.2" lengthAdjust="spacingAndGlyphs">visible</text>
<line x1="352.7" y1="477.1" x2="346.5" y2="484.5" stroke="#000" stroke-width="1.1"/>
<path d="M343.8 486.9L345.2 479.6L350.9 484.1Z" fill="#000"/>
<rect x="383" y="437.4" width="20.2" height="12.8" fill="#fff" stroke="#000" stroke-width="0.9"/>
<text x="384.9" y="447.4" font-size="10" textLength="16.4" lengthAdjust="spacingAndGlyphs">Don</text>
<text x="201.4" y="557.2" font-size="11" textLength="37.6" lengthAdjust="spacingAndGlyphs">Sessions</text>
</svg>
</body></html>
